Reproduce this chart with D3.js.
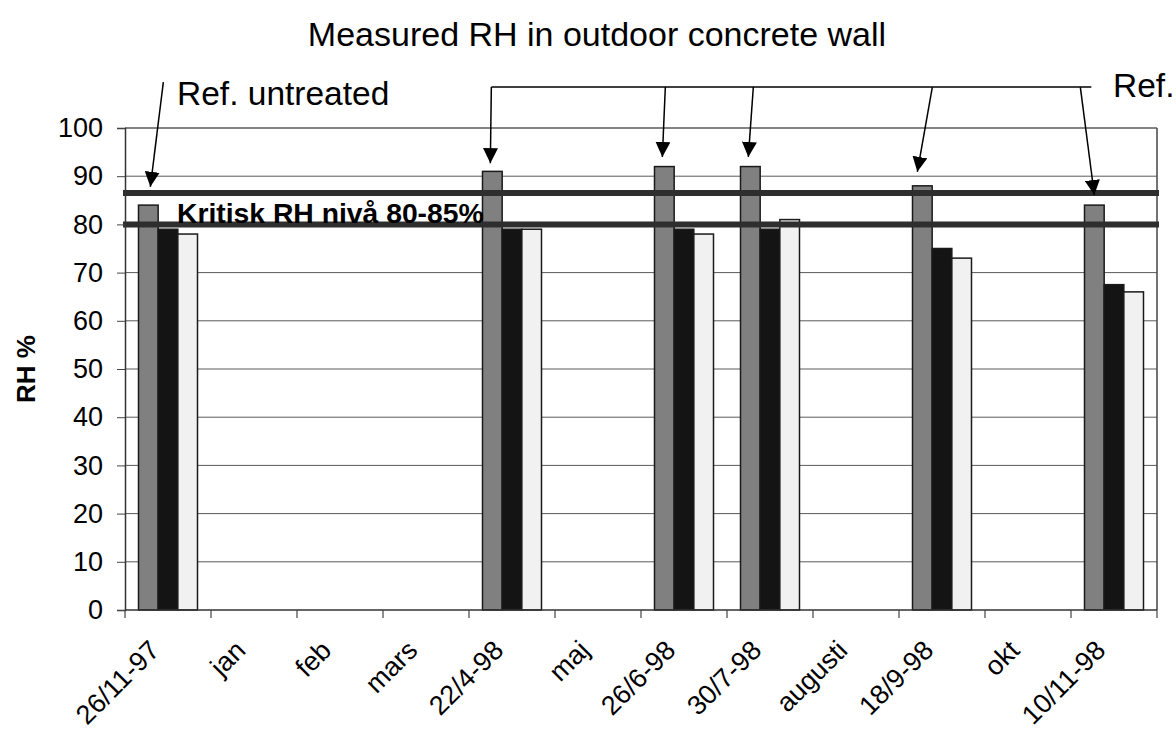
<!DOCTYPE html>
<html>
<head>
<meta charset="utf-8">
<script src="https://cdn.jsdelivr.net/npm/d3@7"></script>
<style>
  html, body { margin: 0; padding: 0; background: #fff; }
  svg { display: block; }
  text { font-family: "Liberation Sans", Arial, sans-serif; fill: #000; }
</style>
</head>
<body>
<svg id="chart" width="1176" height="731"></svg>
<script>
// ---- data ----
const categories = ["26/11-97", "jan", "feb", "mars", "22/4-98", "maj", "26/6-98", "30/7-98", "augusti", "18/9-98", "okt", "10/11-98"];
const seriesNames = ["Ref. untreated", "Series 2", "Series 3"];
const refValues    = [84, null, null, null, 91, null, 92, 92, null, 88, null, 84];
const series2Values = [79, null, null, null, 79, null, 79, 79, null, 75, null, 67.5];
const series3Values = [78, null, null, null, 79, null, 78, 81, null, 73, null, 66];
const yTicks = [0, 10, 20, 30, 40, 50, 60, 70, 80, 90, 100];
const criticalLevels = [86.5, 80];
const titleText = "Measured RH in outdoor concrete wall";
const yLabel = "RH %";
const criticalLabel = "Kritisk RH nivå 80-85%";
// annotation arrows: target category, tip value, start offset (px) from bar centre
const untreatedArrow = { cat: "26/11-97", tip: 87.8, start: 109.5, dx: 15 };
const bracketArrows = [
  { cat: "22/4-98", tip: 92.7, dx: -1 },
  { cat: "26/6-98", tip: 94.0, dx: 1 },
  { cat: "30/7-98", tip: 94.0, dx: 3 },
  { cat: "18/9-98", tip: 90.9, dx: 10 },
  { cat: "10/11-98", tip: 86.1, dx: -14 }
];
const bracketLevel = 108.5;

// ---- layout ----
const W = 1176, H = 731;
const margin = { top: 128, right: 19, bottom: 121, left: 125 };
const svg = d3.select("#chart");

const x0 = d3.scaleBand().domain(categories)
  .range([margin.left, W - margin.right])
  .paddingInner(0.314).paddingOuter(0.157);
const x1 = d3.scaleBand().domain([0, 1, 2]).range([0, x0.bandwidth()]).padding(0);
const y = d3.scaleLinear().domain([0, 100]).range([H - margin.bottom, margin.top]);

const colors = ["#808080", "#141414", "#f1f1f1"];
const allSeries = [refValues, series2Values, series3Values];

const defs = svg.append("defs");
defs.append("marker").attr("id", "arrow")
  .attr("viewBox", "0 0 10 10").attr("refX", 10).attr("refY", 5)
  .attr("markerWidth", 15).attr("markerHeight", 15).attr("markerUnits", "userSpaceOnUse")
  .attr("orient", "auto")
  .append("path").attr("d", "M0,0 L10,5 L0,10 Z").attr("fill", "#000");

// gridlines
const plotL = margin.left, plotR = W - margin.right;
svg.append("g").selectAll("line").data(yTicks.filter(d => d > 0)).join("line")
  .attr("x1", plotL).attr("x2", plotR)
  .attr("y1", d => y(d)).attr("y2", d => y(d))
  .attr("stroke", "#5a5a5a").attr("stroke-width", d => d === 100 ? 1.5 : 1);

// right border
svg.append("line").attr("x1", plotR).attr("x2", plotR)
  .attr("y1", y(100)).attr("y2", y(0)).attr("stroke", "#444").attr("stroke-width", 1.5);

// bars
const rows = categories.map((c, i) => ({ cat: c, vals: allSeries.map(s => s[i]) }));
const groups = svg.append("g").selectAll("g").data(rows).join("g")
  .attr("transform", d => `translate(${x0(d.cat)},0)`);
groups.selectAll("rect")
  .data(d => d.vals.map((v, k) => ({ v, k })).filter(e => e.v !== null))
  .join("rect")
  .attr("x", e => x1(e.k)).attr("width", x1.bandwidth())
  .attr("y", e => y(e.v)).attr("height", e => y(0) - y(e.v))
  .attr("fill", e => colors[e.k]).attr("stroke", "#1a1a1a").attr("stroke-width", 1.5);

// critical lines
svg.append("g").selectAll("line").data(criticalLevels).join("line")
  .attr("x1", plotL - 2).attr("x2", plotR + 2)
  .attr("y1", d => y(d)).attr("y2", d => y(d))
  .attr("stroke", "#2e2e2e").attr("stroke-width", 6);

// y axis
const yAxis = d3.axisLeft(y).tickValues(yTicks).tickSize(8).tickPadding(14);
const gy = svg.append("g").attr("transform", `translate(${plotL},0)`).call(yAxis);
gy.select(".domain").attr("stroke", "#333").attr("stroke-width", 1.5);
gy.selectAll(".tick line").attr("stroke", "#444");
gy.selectAll(".tick text").style("font-size", "27px").style("font-family", "'Liberation Sans', Arial, sans-serif").attr("fill", "#111");

// x axis line
svg.append("line").attr("x1", plotL).attr("x2", plotR)
  .attr("y1", y(0)).attr("y2", y(0)).attr("stroke", "#333").attr("stroke-width", 1.5);
// x ticks at category boundaries
const boundaries = categories.map(c => x0(c) - x0.step() * x0.paddingOuter()).concat([plotR]);
svg.append("g").selectAll("line").data(boundaries).join("line")
  .attr("x1", d => d).attr("x2", d => d)
  .attr("y1", y(0)).attr("y2", y(0) + 8).attr("stroke", "#444").attr("stroke-width", 1.2);
// x labels
svg.append("g").selectAll("text").data(categories).join("text")
  .attr("transform", c => `translate(${x0(c) + x0.bandwidth() / 2 - 7},${y(0) + 42}) rotate(-45)`)
  .attr("text-anchor", "end")
  .style("font-size", "27px")
  .text(c => c);

// title
svg.append("text").attr("x", 597).attr("y", 46).attr("text-anchor", "middle")
  .style("font-size", "34px").text(titleText);

// y label
svg.append("text").attr("transform", `translate(35,${(y(0) + y(100)) / 2}) rotate(-90)`)
  .attr("text-anchor", "middle").style("font-size", "26px").style("font-weight", "bold")
  .text(yLabel);

// critical label
svg.append("text").attr("x", 177).attr("y", y(80) - 1)
  .style("font-size", "28.3px").style("font-weight", "bold").text(criticalLabel);

// annotations
const barCentre = c => x0(c) + x1(0) + x1.bandwidth() / 2;
svg.append("text").attr("x", 177).attr("y", 105).style("font-size", "33.5px").text("Ref. untreated");
svg.append("line")
  .attr("x1", barCentre(untreatedArrow.cat) + untreatedArrow.dx).attr("y1", y(untreatedArrow.start))
  .attr("x2", barCentre(untreatedArrow.cat) + 2).attr("y2", y(untreatedArrow.tip))
  .attr("stroke", "#000").attr("stroke-width", 1.5).attr("marker-end", "url(#arrow)");

const bStart = bracketArrows.map(a => barCentre(a.cat) + a.dx);
svg.append("line").attr("x1", d3.min(bStart)).attr("x2", d3.max(bStart) + 11)
  .attr("y1", y(bracketLevel)).attr("y2", y(bracketLevel))
  .attr("stroke", "#000").attr("stroke-width", 1.5);
svg.append("g").selectAll("line").data(bracketArrows).join("line")
  .attr("x1", a => barCentre(a.cat) + a.dx).attr("y1", y(bracketLevel))
  .attr("x2", a => barCentre(a.cat) + (a.dx > 5 ? -5 : (a.dx < -5 ? 0 : -2))).attr("y2", a => y(a.tip))
  .attr("stroke", "#000").attr("stroke-width", 1.5).attr("marker-end", "url(#arrow)");
svg.append("text").attr("x", 1113).attr("y", 97).style("font-size", "33.5px").text("Ref.");
</script>
</body>
</html>
